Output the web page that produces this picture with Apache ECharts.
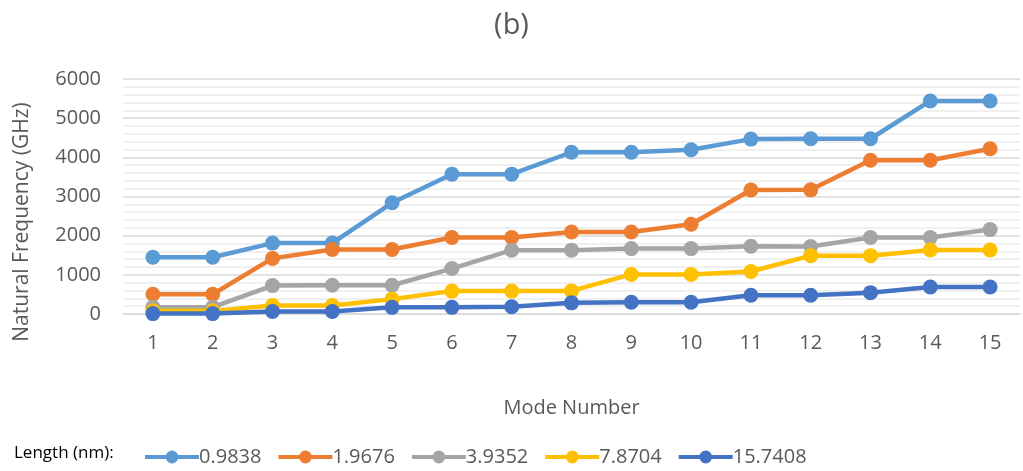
<!DOCTYPE html>
<html><head><meta charset="utf-8">
<script src="https://cdn.jsdelivr.net/npm/echarts@6/dist/echarts.min.js"></script>
<style>html,body{margin:0;padding:0;background:#fff}#c{width:1023px;height:471px}</style>
</head><body><div id="c"></div>
<script>
const modes = ['1','2','3','4','5','6','7','8','9','10','11','12','13','14','15'];
const seriesNames = ['0.9838','1.9676','3.9352','7.8704','15.7408'];
const colors = ['#5B9BD5','#ED7D31','#A5A5A5','#FFC000','#4472C4'];
const len09838 = [1450,1450,1810,1810,2840,3570,3570,4130,4130,4195,4465,4475,4475,5440,5440];
const len19676 = [505,505,1420,1645,1645,1955,1955,2095,2095,2290,3165,3170,3925,3925,4220];
const len39352 = [175,175,725,735,735,1160,1630,1630,1670,1670,1730,1725,1955,1955,2155];
const len78704 = [80,80,215,215,380,585,585,590,1010,1010,1085,1490,1490,1635,1635];
const len157408 = [10,10,65,65,170,170,185,285,300,300,480,480,545,690,690];
const yTicks = [0,1000,2000,3000,4000,5000,6000];
const allData = [len09838,len19676,len39352,len78704,len157408];

const FONT = '"Open Sans", "Liberation Sans", sans-serif';
const chart = echarts.init(document.getElementById('c'), null, {renderer:'canvas'});
chart.setOption({
  animation:false,
  backgroundColor:'#fff',
  color: colors,
  title:{text:'(b)', left:'center', top:6, textStyle:{fontFamily:FONT, fontSize:29, fontWeight:'normal', color:'#595959'}},
  grid:{left:123, right:3, top:79, bottom:157},
  graphic:[
    {type:'text', left:14, top:445, style:{text:'Length (nm):', font:'17px '+FONT, fill:'#000'}},
    {type:'text', x:22, y:222, rotation:Math.PI/2,
      style:{text:'Natural Frequency (GHz)', font:'21px '+FONT, fill:'#595959', textAlign:'center', textVerticalAlign:'middle'}}
  ],
  legend:{left:138, top:442, itemWidth:54, itemHeight:16, itemGap:15,
    lineStyle:{width:4},
    textStyle:{fontFamily:FONT, fontSize:20, color:'#595959', padding:[0,0,0,-5]},
    data: seriesNames},
  xAxis:{type:'category', data:modes, boundaryGap:true,
    axisLine:{show:true, lineStyle:{color:'#d9d9d9', width:1.5}}, axisTick:{show:false},
    axisLabel:{fontFamily:FONT, fontSize:20, color:'#595959', margin:19},
    name:'Mode Number', nameLocation:'middle', nameGap:84,
    nameTextStyle:{fontFamily:FONT, fontSize:20, color:'#595959'}},
  yAxis:{type:'value', min:yTicks[0], max:yTicks[yTicks.length-1], interval:1000,
    axisLine:{show:false}, axisTick:{show:false},
    axisLabel:{fontFamily:FONT, fontSize:20, color:'#595959', margin:22, formatter:v=>String(v)},
    splitLine:{lineStyle:{color:'#d9d9d9', width:1.5}},
    minorTick:{show:false, splitNumber:5},
    minorSplitLine:{show:true, lineStyle:{color:'#ececec', width:1.5}}},
  series: seriesNames.map((n,i)=>({name:n, type:'line', data:allData[i],
    symbol:'circle', symbolSize:15, showSymbol:true,
    lineStyle:{width:4.5, color:colors[i]}, itemStyle:{color:colors[i]}}))
});
</script></body></html>
